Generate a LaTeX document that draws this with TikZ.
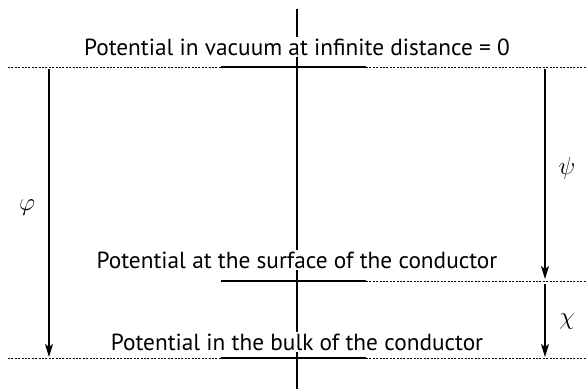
\documentclass[tikz,border=0pt]{standalone}
\usepackage{fontspec}
\setmainfont{PT Sans}
\usetikzlibrary{arrows.meta}
\begin{document}
\begin{tikzpicture}[x=1pt,y=-1pt,
  lbl/.style={fill=white, inner sep=1.5pt, anchor=base, font=\fontsize{23.3}{26}\selectfont},
  dots/.style={dash pattern=on 2pt off 1.4pt, line width=0.8pt},
  level/.style={line width=1.5pt},
  potarrow/.style={line width=1.2pt, -{Stealth[length=13pt,width=8pt,inset=3pt]}},
  sym/.style={font=\fontsize{24}{26}\selectfont}]
\useasboundingbox (0,0) rectangle (587,389);
% centre line
\coordinate (ctop) at (297,9);
\coordinate (cbot) at (297,389);
\draw[level] (ctop) -- (cbot);
% vacuum level
\coordinate (vS) at (8,67);
\coordinate (vL) at (221,67);
\coordinate (vR) at (366,67);
\coordinate (vE) at (587,67);
\draw[dots] (vS) -- (vL);
\draw[level] (vL) -- (vR);
\draw[dots] (vR) -- (vE);
% surface level
\coordinate (sL) at (221,281);
\coordinate (sR) at (366,281);
\coordinate (sE) at (587,281);
\draw[level] (sL) -- (sR);
\draw[dots] (sR) -- (sE);
% bulk level
\coordinate (bS) at (8,358);
\coordinate (bL) at (221,358);
\coordinate (bR) at (366,358);
\coordinate (bE) at (587,358);
\draw[dots] (bS) -- (bL);
\draw[level] (bL) -- (bR);
\draw[dots] (bR) -- (bE);
% texts
\node[lbl] (tvac) at (297,55) {Potential in vacuum at infinite distance = 0};
\node[lbl] (tsurf) at (297,268) {Potential at the surface of the conductor};
\node[lbl] (tbulk) at (297,350) {Potential in the bulk of the conductor};
% arrows
\coordinate (phiA) at (49,69);
\coordinate (phiB) at (49,357);
\draw[potarrow] (phiA) -- (phiB);
\coordinate (psiA) at (545,69);
\coordinate (psiB) at (545,279);
\draw[potarrow] (psiA) -- (psiB);
\coordinate (chiA) at (545,284);
\coordinate (chiB) at (545,357);
\draw[potarrow] (chiA) -- (chiB);
\node[sym] (lphi) at (27,208) {$\varphi$};
\node[sym] (lpsi) at (567,168) {$\psi$};
\node[sym] (lchi) at (567,322) {$\chi$};
\end{tikzpicture}
\end{document}
